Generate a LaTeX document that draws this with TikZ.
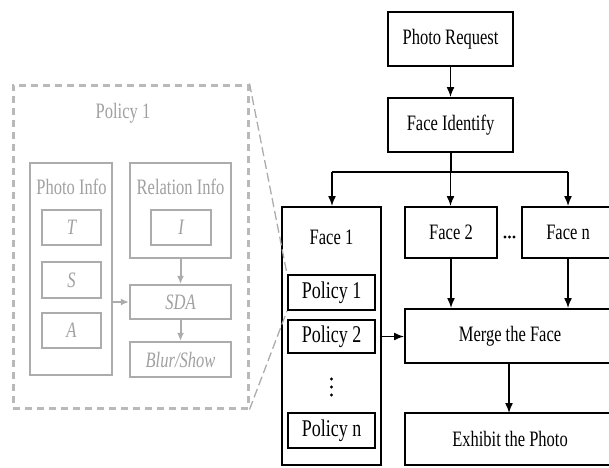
\documentclass[tikz,border=0pt]{standalone}
\usepackage{fontspec}
\setmainfont{Liberation Serif}[FakeStretch=0.75]
\usetikzlibrary{arrows.meta}
\definecolor{gbox}{RGB}{172,172,172}
\definecolor{gtext}{RGB}{160,160,160}
\definecolor{gdash}{RGB}{185,185,185}
\tikzset{
  blk/.style={draw=black, line width=2pt, minimum width=#1, inner sep=0pt},
  gry/.style={draw=gbox, line width=2.2pt, minimum width=#1, inner sep=0pt, text=gtext},
  arr/.style={line width=1.5pt, -{Latex[length=10pt,width=8pt]}},
  garr/.style={draw=gbox, line width=2pt, -{Latex[length=8pt,width=7pt]}},
  lbl/.style={inner sep=0pt},
  dot/.style={fill=black, circle, inner sep=0pt, minimum size=3.2pt},
  mfont/.style={font=\fontsize{22}{26}\selectfont},
  pfont/.style={font=\fontsize{24}{26}\selectfont},
  ifont/.style={font=\itshape\fontsize{22}{26}\selectfont},
}
\begin{document}
\begin{tikzpicture}[x=1pt,y=-1pt,mfont]
\useasboundingbox (0,0) rectangle (609,467);
\clip (0,0) rectangle (609,467);
% ---------- right (black) part ----------
\node[blk=125pt, minimum height=54pt] (pr) at (450.5,39) {Photo Request};
\node[blk=125pt, minimum height=54pt] (fi) at (450.5,125) {Face Identify};
\node[blk=99pt, minimum height=258pt] (f1) at (331.5,336) {};
\node[lbl] (f1t) at (331.5,237) {Face 1};
\node[blk=92pt, minimum height=51pt] (f2) at (451,232.5) {Face 2};
\node[blk=92pt, minimum height=51pt] (fn) at (568,232.5) {Face n};
\node[dot] (h1) at (505,237) {};
\node[dot] (h2) at (509.5,237) {};
\node[dot] (h3) at (514,237) {};
\node[blk=210pt, minimum height=54pt] (mg) at (510,336) {Merge the Face};
\node[blk=210pt, minimum height=52pt] (ex) at (510,439) {Exhibit the Photo};
\node[blk=87pt, minimum height=35pt, pfont] (p1) at (331.5,292.5) {Policy 1};
\node[blk=87pt, minimum height=33pt, pfont] (p2) at (331.5,336.5) {Policy 2};
\node[blk=87pt, minimum height=35pt, pfont] (pn) at (331.5,430.5) {Policy n};
\node[dot] (v1) at (331.5,379) {};
\node[dot] (v2) at (331.5,387) {};
\node[dot] (v3) at (331.5,395) {};
\coordinate (br) at (450.5,172);
\coordinate (bl) at (332,172);
\coordinate (bn) at (568,172);
\draw[arr] (pr.south) -- (fi.north);
\draw[line width=2pt] (fi.south) -- (br);
\draw[line width=2pt] (bl) -- (bn);
\draw[arr] (bl) -- (bl |- f1.north);
\draw[arr] (br) -- (br |- f2.north);
\draw[arr] (bn) -- (bn |- fn.north);
\draw[arr] (f2.south) -- (f2.south |- mg.north);
\draw[arr] (fn.south) -- (fn.south |- mg.north);
\draw[arr] (509,363) -- (509,413);
\draw[arr] (f1.east |- p2) -- (mg.west |- p2);
% ---------- left (gray) part ----------
\node[draw=gdash, line width=3pt, dash pattern=on 7pt off 5pt, minimum width=235pt, minimum height=323pt, inner sep=0pt] (pol) at (130.5,246.5) {};
\node[lbl, text=gtext] (polt) at (123,113) {Policy 1};
\node[gry=82pt, minimum height=212pt] (pi) at (71,269) {};
\node[lbl, text=gtext] (pit) at (71.5,187) {Photo Info};
\node[gry=59pt, minimum height=35pt, ifont] (T) at (71.5,227.5) {T};
\node[gry=59pt, minimum height=36pt, ifont] (S) at (71.5,280) {S};
\node[gry=59pt, minimum height=35pt, ifont] (A) at (71.5,330.5) {A};
\node[gry=101pt, minimum height=95pt] (ri) at (180.5,210.5) {};
\node[lbl, text=gtext] (rit) at (180.5,187) {Relation Info};
\node[gry=60pt, minimum height=35pt, ifont] (I) at (181,227.5) {I};
\node[gry=101pt, minimum height=34pt, ifont] (sda) at (180.5,302) {SDA};
\node[gry=101pt, minimum height=35pt, ifont] (bs) at (180.5,359.5) {Blur/Show};
\draw[garr] (pi.east |- sda) -- (sda.west);
\draw[garr] (ri.south) -- (sda.north);
\draw[garr] (sda.south) -- (bs.north);
\draw[draw=gbox, line width=1.3pt, dash pattern=on 9pt off 4pt] (pol.north east) -- (p1.north west);
\draw[draw=gbox, line width=1.3pt, dash pattern=on 9pt off 4pt] (pol.south east) -- (p1.south west);
\end{tikzpicture}
\end{document}
